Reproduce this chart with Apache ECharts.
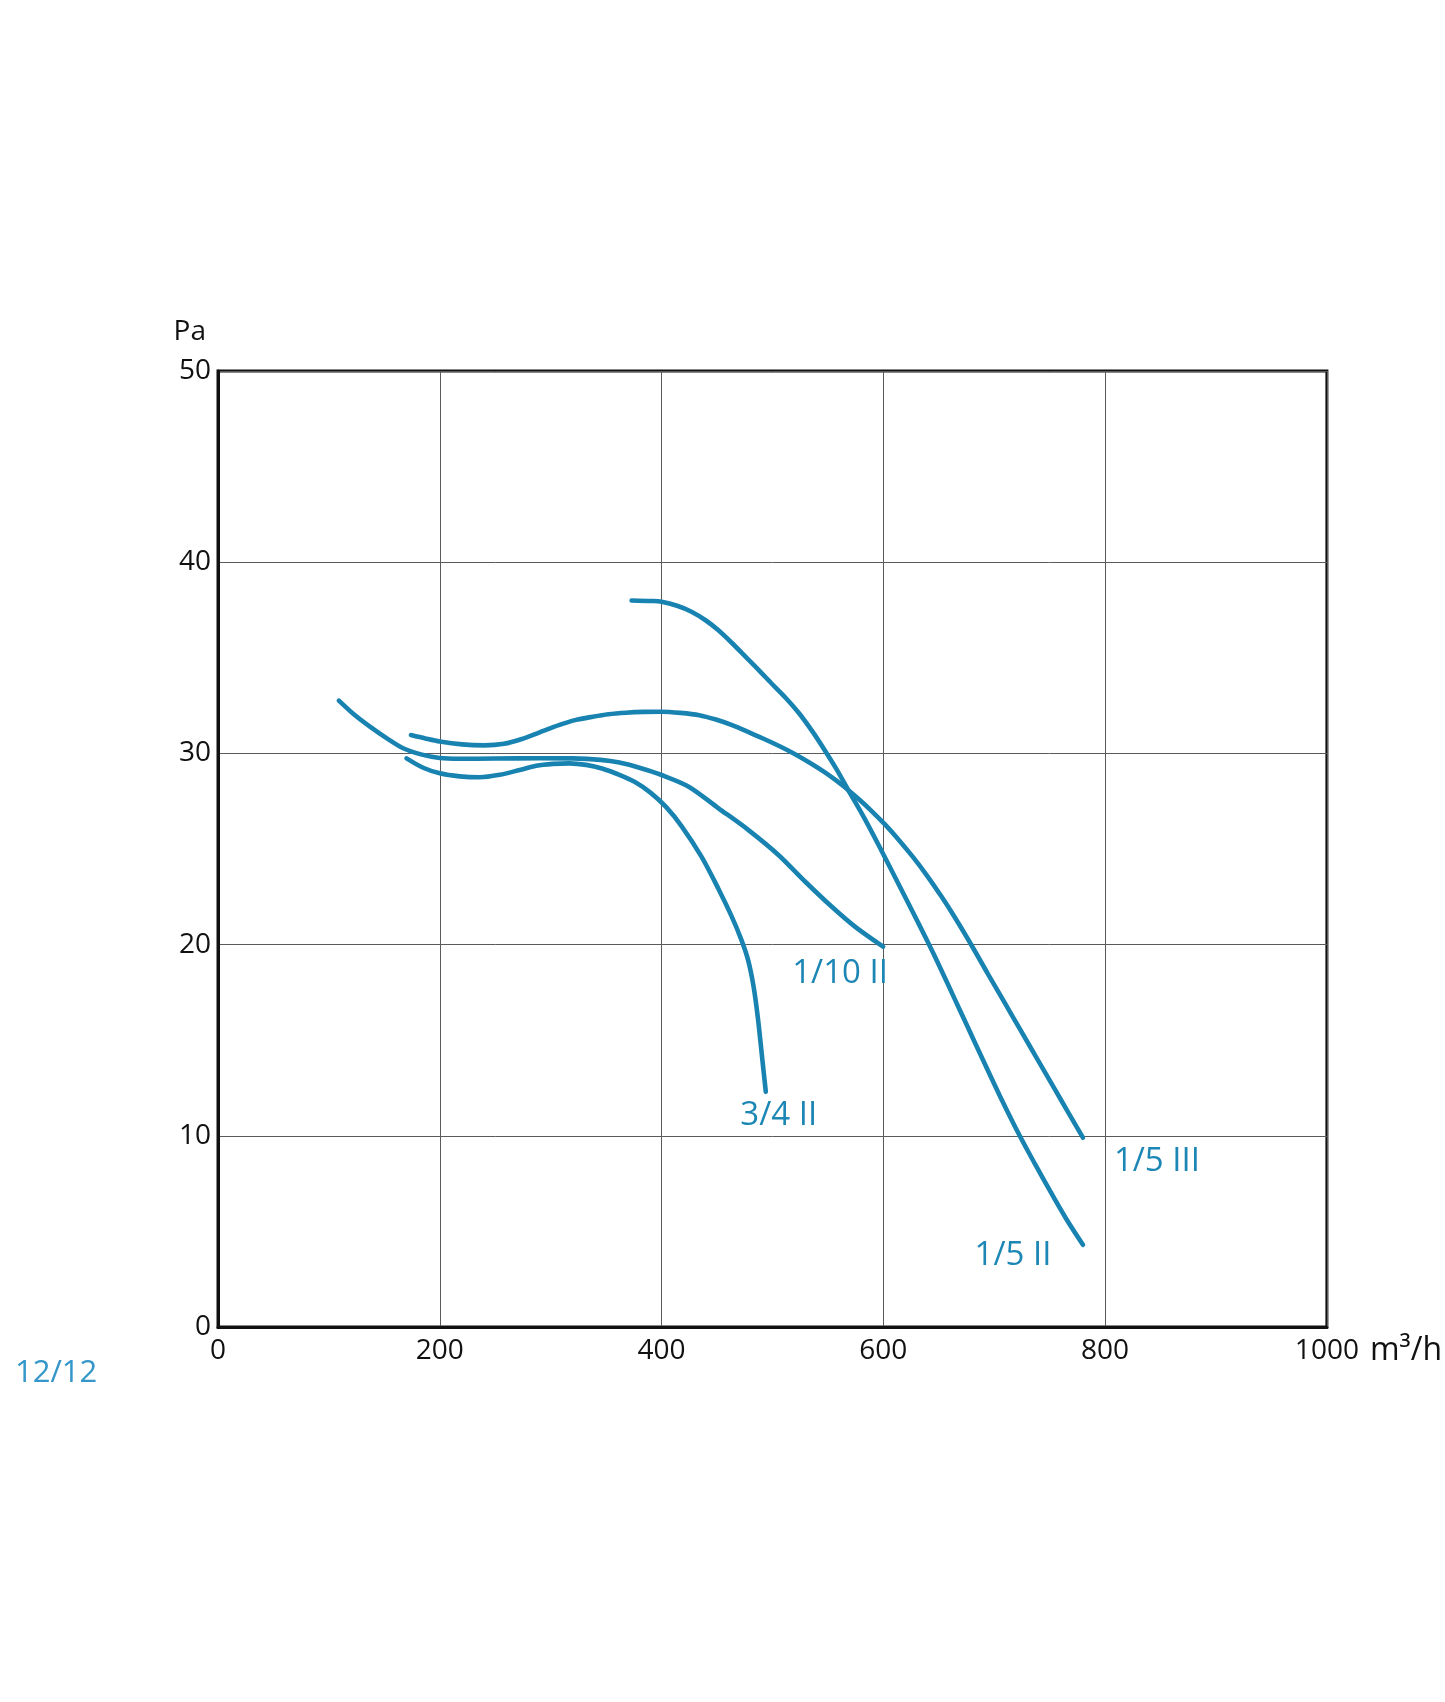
<!DOCTYPE html>
<html>
<head>
<meta charset="utf-8">
<script src="https://cdn.jsdelivr.net/npm/echarts@6/dist/echarts.min.js"></script>
<style>
html,body{margin:0;padding:0;background:#fff;}
#chart{width:1445px;height:1702px;}
</style>
</head>
<body>
<div id="chart"></div>
<script>
// ---- data (x: m³/h, y: Pa) ----
const xTicks = [0, 200, 400, 600, 800, 1000];
const yTicks = [0, 10, 20, 30, 40, 50];

const curve_1_5_II = [
  [373,38.0],[391,37.97],[400,37.93],[414,37.72],[427,37.41],[440,36.95],[451,36.45],[463,35.8],
  [475,35.1],[487,34.4],[499,33.67],[512,32.9],[524,32.1],[536,31.15],[547,30.18],[558,29.15],
  [568,28.12],[583,26.6],[598,24.95],[613,23.25],[627,21.65],[640,20.15],[652,18.7],[664,17.2],
  [676,15.7],[688,14.2],[705,12.1],[723,10.0],[737,8.5],[751,7.05],[765,5.65],[780,4.3]
];
const curve_1_5_III = [
  [174,30.96],[187,30.78],[200,30.62],[220,30.47],[240,30.42],[258,30.5],[274,30.75],[290,31.1],
  [308,31.49],[322,31.74],[338,31.92],[352,32.05],[368,32.13],[384,32.17],[400,32.18],[417,32.12],
  [434,32.0],[449,31.77],[463,31.49],[478,31.13],[493,30.74],[507,30.36],[520,29.97],[534,29.5],
  [547,29.02],[558,28.56],[568,28.1],[579,27.55],[589,27.01],[601,26.31],[613,25.54],[627,24.56],
  [640,23.56],[652,22.55],[664,21.47],[679,20.02],[694,18.5],[709,17.0],[724,15.5],[739,14.0],
  [750,12.9],[760,11.9],[770,10.9],[780,9.9]
];
const curve_1_10_II = [
  [109,32.76],[123,32.02],[137,31.4],[152,30.8],[167,30.27],[183,29.95],[200,29.76],[218,29.72],
  [250,29.73],[290,29.75],[320,29.74],[345,29.66],[362,29.52],[380,29.25],[400,28.87],[424.5,28.26],
  [451.4,27.13],[478.4,25.99],[505.4,24.69],[529.4,23.3],[553.3,21.99],[574.4,20.94],[599.8,19.89]
];
const curve_3_4_II = [
  [170,29.74],[185,29.25],[200,28.96],[218,28.8],[236,28.75],[254,28.88],[272,29.13],[287,29.35],
  [302,29.45],[317,29.48],[332,29.4],[347,29.2],[362,28.88],[376,28.5],[390,27.95],[404,27.2],
  [418,26.2],[436,24.6],[451,22.95],[463,21.5],[472,20.25],[478,19.2],[483,17.8],[487,16.1],
  [490.5,14.2],[494,12.3]
];

const seriesNames = ['1/5 II', '1/5 III', '1/10 II', '3/4 II'];
const seriesData = [curve_1_5_II, curve_1_5_III, curve_1_10_II, curve_3_4_II];
const labelOffsets = [[-70, 11], [74, 24], [-43, 27], [13, 24]];

const LINE = '#1883b1';
const LABEL = '#1c86b4';
const FONT = '"Open Sans", "Noto Sans", sans-serif';

const chart = echarts.init(document.getElementById('chart'), null, {renderer: 'canvas'});

const series = seriesData.map((d, i) => {
  const last = d[d.length - 1];
  return {
    type: 'line',
    name: seriesNames[i],
    data: d,
    smooth: 0.3,
    showSymbol: false,
    symbol: 'none',
    lineStyle: {color: LINE, width: 4.6, cap: 'round', join: 'round'},
    silent: true,
    z: 5,
    markPoint: {
      silent: true,
      symbol: 'circle',
      symbolSize: 1,
      itemStyle: {color: 'rgba(0,0,0,0)'},
      label: {
        show: true,
        position: 'inside',
        offset: labelOffsets[i],
        formatter: seriesNames[i],
        color: LABEL,
        fontSize: 33,
        fontFamily: FONT
      },
      data: [{coord: last}]
    }
  };
});

chart.setOption({
  animation: false,
  backgroundColor: '#fff',
  grid: {
    left: 218, right: 115, top: 371, bottom: 375,
    show: true, borderColor: '#111', borderWidth: 3, backgroundColor: 'transparent'
  },
  xAxis: {
    type: 'value', min: xTicks[0], max: xTicks[xTicks.length - 1], interval: 200,
    name: 'm³/h', nameLocation: 'end', nameGap: 43,
    nameTextStyle: {color: '#111', fontSize: 32, fontFamily: FONT, align: 'left', verticalAlign: 'top', lineHeight: 48},
    axisLine: {show: true, lineStyle: {color: '#111', width: 3}},
    axisTick: {show: false},
    axisLabel: {color: '#111', fontSize: 28, fontFamily: FONT, margin: 10, formatter: v => String(v)},
    splitLine: {show: true, lineStyle: {color: '#5a5a5a', width: 1}}
  },
  yAxis: {
    type: 'value', min: yTicks[0], max: yTicks[yTicks.length - 1], interval: 10,
    name: 'Pa', nameLocation: 'end', nameGap: 25,
    nameTextStyle: {color: '#111', fontSize: 28, fontFamily: FONT, align: 'right', padding: [0, 12, 0, 0]},
    axisLine: {show: true, lineStyle: {color: '#111', width: 3}},
    axisTick: {show: false},
    axisLabel: {color: '#111', fontSize: 28, fontFamily: FONT, margin: 7, formatter: v => String(v)},
    splitLine: {show: true, lineStyle: {color: '#5a5a5a', width: 1}}
  },
  graphic: [{
    type: 'text', left: 15, top: 1358,
    style: {text: '12/12', fill: '#3597c9', fontSize: 31, fontFamily: FONT}
  }],
  series: series
});
</script>
</body>
</html>
